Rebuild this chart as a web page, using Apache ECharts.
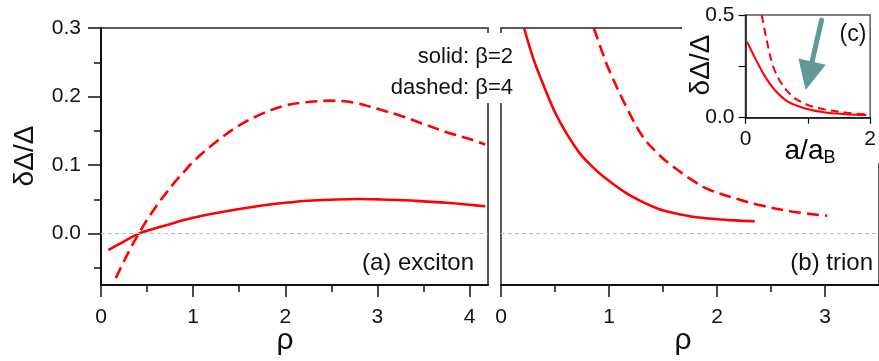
<!DOCTYPE html>
<html><head><meta charset="utf-8">
<script src="https://cdn.jsdelivr.net/npm/echarts@6/dist/echarts.min.js"></script>
<style>html,body{margin:0;padding:0;background:#fff}#c{width:879px;height:361px}</style>
</head><body><div id="c"></div>
<script>
// ---- Panel (a) exciton ----
const rhoExSolid = [0.08, 0.2, 0.41, 0.6, 0.8, 1.0, 1.25, 1.5, 1.75, 2.0, 2.25, 2.5, 2.8, 3.0, 3.25, 3.5, 3.75, 4.0, 4.17];
const exSolid    = [-0.024, -0.015, 0.0, 0.008, 0.016, 0.023, 0.030, 0.036, 0.041, 0.045, 0.048, 0.0495, 0.0505, 0.050, 0.049, 0.047, 0.045, 0.042, 0.040];
const rhoExDashed = [0.16, 0.25, 0.33, 0.41, 0.5, 0.6, 0.7, 0.8, 0.9, 1.0, 1.25, 1.5, 1.75, 2.0, 2.25, 2.5, 2.75, 3.0, 3.25, 3.5, 3.75, 4.0, 4.17];
const exDashed    = [-0.065, -0.040, -0.019, 0.0, 0.020, 0.040, 0.058, 0.075, 0.090, 0.105, 0.134, 0.158, 0.175, 0.187, 0.192, 0.194, 0.191, 0.182, 0.172, 0.160, 0.148, 0.138, 0.130];
// ---- Panel (b) trion ----
const rhoTrSolid = [0.214, 0.3, 0.4, 0.5, 0.6, 0.73, 0.85, 0.95, 1.16, 1.3, 1.46, 1.6, 1.76, 2.0, 2.2, 2.35];
const trSolid    = [0.300, 0.255, 0.214, 0.177, 0.148, 0.117, 0.097, 0.083, 0.059, 0.047, 0.036, 0.030, 0.025, 0.021, 0.019, 0.018];
const rhoTrDashed = [0.86, 0.93, 1.0, 1.16, 1.31, 1.45, 1.55, 1.76, 1.93, 2.2, 2.38, 2.7, 3.02];
const trDashed    = [0.300, 0.268, 0.239, 0.185, 0.142, 0.117, 0.103, 0.079, 0.064, 0.050, 0.042, 0.032, 0.026];
// ---- Inset (c) ----
const aInSolid = [0.025, 0.157, 0.315, 0.47, 0.68, 0.945, 1.26, 1.6, 1.94];
const inSolid  = [0.37, 0.289, 0.200, 0.135, 0.078, 0.046, 0.026, 0.017, 0.013];
const aInDashed = [0.26, 0.34, 0.446, 0.577, 0.76, 1.0, 1.26, 1.63, 1.97];
const inDashed  = [0.50, 0.378, 0.248, 0.167, 0.102, 0.062, 0.041, 0.024, 0.016];
// arrow annotation in inset (data coordinates: tail, tip)
const arrowTail = [1.22, 0.475];
const arrowTip  = [0.965, 0.135];
// ---- ticks ----
const ticksAMajorX = [0, 1, 2, 3, 4];
const ticksAMinorX = [0.5, 1.5, 2.5, 3.5];
const ticksBMajorX = [0, 1, 2, 3];
const ticksBMinorX = [0.5, 1.5, 2.5];
const ticksMajorY = [0, 0.1, 0.2, 0.3];
const ticksMinorY = [-0.05, 0.05, 0.15, 0.25];
const ticksInX = [0, 1, 2];
const labelsInX = [0, 2];
const ticksInY = [0, 0.25, 0.5];
const labelsInY = [0, 0.5];

const FF = 'Liberation Sans, Arial, sans-serif';
const pairs = (xs, ys) => xs.map((x, i) => [x, ys[i]]);
const RED = '#ff0000';
const DARK = '#111';
const GRAY = '#5a5a5a';
const TEAL = '#5f9a99';
const SM = 0.35;

const chart = echarts.init(document.getElementById('c'), null, {renderer: 'canvas'});

function majorX(grid, min, max, ticks, labels, color) {
  return {
    type: 'value', gridIndex: grid, min, max, position: 'bottom',
    axisLine: {show: true, onZero: false, lineStyle: {color: color || DARK, width: 2}},
    axisTick: {show: true, customValues: ticks, length: 12, lineStyle: {color: DARK, width: 1.5}},
    axisLabel: {show: true, customValues: labels, fontSize: 21, fontFamily: FF, color: DARK, margin: 22},
    splitLine: {show: false}
  };
}
function minorX(grid, min, max, ticks) {
  return {
    type: 'value', gridIndex: grid, min, max, position: 'bottom',
    axisLine: {show: false, onZero: false},
    axisTick: {show: true, customValues: ticks, length: 7, lineStyle: {color: DARK, width: 1.5}},
    axisLabel: {show: false}, splitLine: {show: false}
  };
}

const option = {
  animation: false,
  backgroundColor: '#fff',
  grid: [
    {left: 101, top: 28, width: 387, height: 257, show: true, borderColor: GRAY, borderWidth: 2, backgroundColor: 'transparent'},
    {left: 501, top: 28, width: 386, height: 257, show: true, borderColor: GRAY, borderWidth: 2, backgroundColor: 'transparent'},
    {left: 745.5, top: 15, width: 128.5, height: 102.7, show: true, borderColor: GRAY, borderWidth: 1.5, backgroundColor: 'transparent', z: 105}
  ],
  xAxis: [
    majorX(0, 0, 4.2, ticksAMajorX, ticksAMajorX),
    minorX(0, 0, 4.2, ticksAMinorX),
    majorX(1, 0, 3.5, ticksBMajorX, ticksBMajorX),
    minorX(1, 0, 3.5, ticksBMinorX),
    {
      type: 'value', gridIndex: 2, min: 0, max: 2, position: 'bottom', z: 110,
      axisLine: {show: true, onZero: false, lineStyle: {color: DARK, width: 1.5}},
      axisTick: {show: true, customValues: ticksInX, length: 6, lineStyle: {color: DARK, width: 1.2}},
      axisLabel: {show: true, customValues: labelsInX, fontSize: 21, fontFamily: FF, color: DARK, margin: 11},
      splitLine: {show: false}
    }
  ],
  yAxis: [
    {
      type: 'value', gridIndex: 0, min: -0.075, max: 0.3, position: 'left',
      axisLine: {show: true, onZero: false, lineStyle: {color: DARK, width: 2}},
      axisTick: {show: true, customValues: ticksMajorY, length: 13, lineStyle: {color: DARK, width: 1.5}},
      axisLabel: {show: true, customValues: ticksMajorY, fontSize: 21, fontFamily: FF, color: DARK, margin: 20,
        formatter: v => Number(v).toFixed(1)},
      splitLine: {show: false}
    },
    {
      type: 'value', gridIndex: 0, min: -0.075, max: 0.3, position: 'left',
      axisLine: {show: false, onZero: false},
      axisTick: {show: true, customValues: ticksMinorY, length: 7, lineStyle: {color: DARK, width: 1.5}},
      axisLabel: {show: false}, splitLine: {show: false}
    },
    {
      type: 'value', gridIndex: 1, min: -0.075, max: 0.3, position: 'left',
      axisLine: {show: true, onZero: false, lineStyle: {color: GRAY, width: 2}},
      axisTick: {show: false}, axisLabel: {show: false}, splitLine: {show: false}
    },
    {
      type: 'value', gridIndex: 2, min: 0, max: 0.5, position: 'left', z: 110,
      axisLine: {show: true, onZero: false, lineStyle: {color: DARK, width: 1.5}},
      axisTick: {show: true, customValues: ticksInY, length: 7, lineStyle: {color: DARK, width: 1.2}},
      axisLabel: {show: true, customValues: labelsInY, fontSize: 21, fontFamily: FF, color: DARK, margin: 11,
        formatter: v => Number(v).toFixed(1)},
      splitLine: {show: false}
    }
  ],
  series: [
    {
      type: 'line', xAxisIndex: 0, yAxisIndex: 0, data: pairs(rhoExSolid, exSolid),
      showSymbol: false, smooth: SM, lineStyle: {color: RED, width: 2.6},
      markLine: {silent: true, symbol: 'none', label: {show: false}, data: [{yAxis: 0}],
        lineStyle: {color: '#bbb', type: [4, 3], width: 1}}
    },
    {
      type: 'line', xAxisIndex: 0, yAxisIndex: 0, data: pairs(rhoExDashed, exDashed),
      showSymbol: false, smooth: SM, lineStyle: {color: RED, width: 2.6, type: [12, 6]}
    },
    {
      type: 'line', xAxisIndex: 2, yAxisIndex: 2, data: pairs(rhoTrSolid, trSolid),
      showSymbol: false, smooth: SM, lineStyle: {color: RED, width: 2.6},
      markLine: {silent: true, symbol: 'none', label: {show: false}, data: [{yAxis: 0}],
        lineStyle: {color: '#bbb', type: [4, 3], width: 1}}
    },
    {
      type: 'line', xAxisIndex: 2, yAxisIndex: 2, data: pairs(rhoTrDashed, trDashed),
      showSymbol: false, smooth: SM, lineStyle: {color: RED, width: 2.6, type: [12, 6]}
    },
    {
      type: 'line', xAxisIndex: 4, yAxisIndex: 3, data: pairs(aInSolid, inSolid), z: 120,
      showSymbol: false, smooth: SM, lineStyle: {color: RED, width: 2}
    },
    {
      type: 'line', xAxisIndex: 4, yAxisIndex: 3, data: pairs(aInDashed, inDashed), z: 120,
      showSymbol: false, smooth: SM, lineStyle: {color: RED, width: 2, type: [8, 5]}
    }
  ]
};
chart.setOption(option);

// arrow annotation in the inset, placed through the inset's own coordinate system
const t = chart.convertToPixel({gridIndex: 2}, arrowTail);
const p = chart.convertToPixel({gridIndex: 2}, arrowTip);
const dx = p[0] - t[0], dy = p[1] - t[1];
const L = Math.hypot(dx, dy), ux = dx / L, uy = dy / L;
const headLen = 29, headHalf = 14;
const bx = p[0] - ux * headLen, by = p[1] - uy * headLen;

chart.setOption({graphic: [
  {id: 'cover', type: 'rect', z: 100, shape: {x: 682, y: 0, width: 197, height: 163}, style: {fill: '#fff'}, silent: true},
  {id: 'legendBox', type: 'rect', z: 100, shape: {x: 386, y: 33, width: 130, height: 70}, style: {fill: '#fff'}, silent: true},
  {id: 't1', type: 'text', z: 101, x: 513, y: 57, style: {text: 'solid: β=2', font: '22px ' + FF, fill: DARK, align: 'right', verticalAlign: 'middle'}},
  {id: 't2', type: 'text', z: 101, x: 513, y: 88, style: {text: 'dashed: β=4', font: '22px ' + FF, fill: DARK, align: 'right', verticalAlign: 'middle'}},
  {id: 't3', type: 'text', z: 101, x: 25, y: 156, rotation: Math.PI / 2, style: {text: 'δΔ/Δ', font: '28px ' + FF, fill: DARK, align: 'center', verticalAlign: 'middle'}},
  {id: 't4', type: 'text', z: 101, x: 285, y: 341, style: {text: 'ρ', font: '30px ' + FF, fill: DARK, align: 'center', verticalAlign: 'middle'}},
  {id: 't5', type: 'text', z: 101, x: 683, y: 341, style: {text: 'ρ', font: '30px ' + FF, fill: DARK, align: 'center', verticalAlign: 'middle'}},
  {id: 't6', type: 'text', z: 101, x: 474, y: 263, style: {text: '(a) exciton', font: '24px ' + FF, fill: DARK, align: 'right', verticalAlign: 'middle'}},
  {id: 't7', type: 'text', z: 101, x: 873, y: 263, style: {text: '(b) trion', font: '24px ' + FF, fill: DARK, align: 'right', verticalAlign: 'middle'}},
  {id: 't8', type: 'text', z: 130, x: 853, y: 35, style: {text: '(c)', font: '23px ' + FF, fill: DARK, align: 'center', verticalAlign: 'middle'}},
  {id: 't9', type: 'text', z: 130, x: 701, y: 65, rotation: Math.PI / 2, style: {text: 'δΔ/Δ', font: '28px ' + FF, fill: DARK, align: 'center', verticalAlign: 'middle'}},
  {id: 't10', type: 'text', z: 130, x: 810, y: 151, style: {
    text: '{m|a/a}{s|B}', align: 'center', verticalAlign: 'middle',
    rich: {m: {font: '28px ' + FF, color: DARK}, s: {font: '18px ' + FF, color: DARK, padding: [14, 0, 0, 0]}}
  }},
  {id: 'arrowLine', type: 'line', z: 140, silent: true, shape: {x1: t[0], y1: t[1], x2: bx + ux * 2, y2: by + uy * 2},
    style: {stroke: TEAL, lineWidth: 5, lineCap: 'round'}},
  {id: 'arrowHead', type: 'polygon', z: 140, silent: true,
    shape: {points: [[p[0], p[1]], [bx - uy * headHalf, by + ux * headHalf], [bx + uy * headHalf, by - ux * headHalf]]},
    style: {fill: TEAL}}
]});
</script>
</body></html>
